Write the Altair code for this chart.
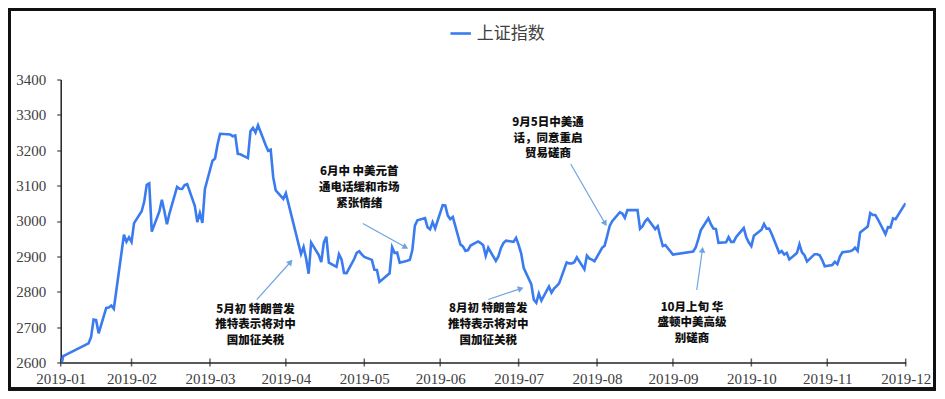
import math
import datetime as dt
import altair as alt
import pandas as pd

# ---------------- data ----------------
series_name = "上证指数"

dates = [
    "2019-01-31",
    "2019-02-01", "2019-02-11", "2019-02-12", "2019-02-13", "2019-02-14", "2019-02-15", "2019-02-18",
    "2019-02-19", "2019-02-20", "2019-02-21", "2019-02-22", "2019-02-25", "2019-02-26", "2019-02-27",
    "2019-02-28",
    "2019-03-01", "2019-03-04", "2019-03-05", "2019-03-06", "2019-03-07", "2019-03-08", "2019-03-11",
    "2019-03-12", "2019-03-13", "2019-03-14", "2019-03-15", "2019-03-18", "2019-03-19", "2019-03-20",
    "2019-03-21", "2019-03-22", "2019-03-25", "2019-03-26", "2019-03-27", "2019-03-28", "2019-03-29",
    "2019-04-01", "2019-04-02", "2019-04-03", "2019-04-04", "2019-04-08", "2019-04-09", "2019-04-10",
    "2019-04-11", "2019-04-12", "2019-04-15", "2019-04-16", "2019-04-17", "2019-04-18", "2019-04-19",
    "2019-04-22", "2019-04-23", "2019-04-24", "2019-04-25", "2019-04-26", "2019-04-29", "2019-04-30",
    "2019-05-06", "2019-05-07", "2019-05-08", "2019-05-09", "2019-05-10", "2019-05-13", "2019-05-14",
    "2019-05-15", "2019-05-16", "2019-05-17", "2019-05-20", "2019-05-21", "2019-05-22", "2019-05-23",
    "2019-05-24", "2019-05-27", "2019-05-28", "2019-05-29", "2019-05-30", "2019-05-31",
    "2019-06-03", "2019-06-04", "2019-06-05", "2019-06-06", "2019-06-10", "2019-06-11", "2019-06-12",
    "2019-06-13", "2019-06-14", "2019-06-17", "2019-06-18", "2019-06-19", "2019-06-20", "2019-06-21",
    "2019-06-24", "2019-06-25", "2019-06-26", "2019-06-27", "2019-06-28",
    "2019-07-01", "2019-07-02", "2019-07-03", "2019-07-04", "2019-07-05", "2019-07-08", "2019-07-09",
    "2019-07-10", "2019-07-11", "2019-07-12", "2019-07-15", "2019-07-16", "2019-07-17", "2019-07-18",
    "2019-07-19", "2019-07-22", "2019-07-23", "2019-07-24", "2019-07-25", "2019-07-26", "2019-07-29",
    "2019-07-30", "2019-07-31",
    "2019-08-01", "2019-08-02", "2019-08-05", "2019-08-06", "2019-08-07", "2019-08-08", "2019-08-09",
    "2019-08-12", "2019-08-13", "2019-08-14", "2019-08-15", "2019-08-16", "2019-08-19", "2019-08-20",
    "2019-08-21", "2019-08-22", "2019-08-23", "2019-08-26", "2019-08-27", "2019-08-28", "2019-08-29",
    "2019-08-30",
    "2019-09-02", "2019-09-03", "2019-09-04", "2019-09-05", "2019-09-06", "2019-09-09", "2019-09-10",
    "2019-09-11", "2019-09-12", "2019-09-16", "2019-09-17", "2019-09-18", "2019-09-19", "2019-09-20",
    "2019-09-23", "2019-09-24", "2019-09-25", "2019-09-26", "2019-09-27", "2019-09-30",
    "2019-10-08", "2019-10-09", "2019-10-10", "2019-10-11", "2019-10-14", "2019-10-15", "2019-10-16",
    "2019-10-17", "2019-10-18", "2019-10-21", "2019-10-22", "2019-10-23", "2019-10-24", "2019-10-25",
    "2019-10-28", "2019-10-29", "2019-10-30", "2019-10-31",
    "2019-11-01", "2019-11-04", "2019-11-05", "2019-11-06", "2019-11-07", "2019-11-08", "2019-11-11",
    "2019-11-12", "2019-11-13", "2019-11-14", "2019-11-15", "2019-11-18", "2019-11-19", "2019-11-20",
    "2019-11-21", "2019-11-22", "2019-11-25", "2019-11-26", "2019-11-27", "2019-11-28", "2019-11-29",
    "2019-12-02", "2019-12-03", "2019-12-04", "2019-12-05", "2019-12-06", "2019-12-09", "2019-12-10",
    "2019-12-11", "2019-12-12", "2019-12-13", "2019-12-16", "2019-12-17", "2019-12-18", "2019-12-19",
    "2019-12-20", "2019-12-23", "2019-12-24", "2019-12-25", "2019-12-26", "2019-12-27", "2019-12-30",
    "2019-12-31",
]

values = [
    2584.6,
    2618.2, 2653.9, 2671.9, 2721.1, 2719.7, 2682.4, 2754.4,
    2755.6, 2761.2, 2751.8, 2804.2, 2961.3, 2941.5, 2953.8,
    2940.9,
    2994.0, 3027.6, 3054.2, 3102.1, 3106.4, 2969.9, 3027.0,
    3060.3, 3026.9, 2990.7, 3021.8, 3096.4, 3091.0, 3090.6,
    3101.5, 3104.1, 3043.0, 2997.1, 3022.7, 2994.9, 3090.8,
    3170.4, 3176.8, 3216.3, 3246.6, 3244.8, 3239.7, 3241.9,
    3190.0, 3188.6, 3177.8, 3253.6, 3263.1, 3250.2, 3270.8,
    3215.0, 3198.6, 3201.6, 3123.8, 3086.4, 3062.5, 3078.3,
    2906.5, 2926.4, 2893.8, 2851.0, 2939.2, 2903.7, 2883.6,
    2938.7, 2955.7, 2882.3, 2870.6, 2906.0, 2891.7, 2853.0,
    2852.8, 2892.4, 2909.9, 2914.7, 2905.8, 2898.7,
    2890.1, 2862.3, 2861.4, 2827.8, 2852.1, 2925.7, 2909.4,
    2910.7, 2882.0, 2887.6, 2890.2, 2917.8, 2987.1, 3002.0,
    3008.2, 2982.1, 2976.3, 2996.8, 2978.9,
    3044.9, 3043.9, 3015.3, 3005.3, 3011.1, 2933.4, 2928.2,
    2915.3, 2917.8, 2930.6, 2942.2, 2937.6, 2931.7, 2901.6,
    2924.2, 2887.0, 2899.9, 2923.3, 2937.4, 2944.5, 2941.0,
    2952.3, 2932.5,
    2908.8, 2867.8, 2821.5, 2777.6, 2768.7, 2794.6, 2774.8,
    2815.0, 2797.3, 2808.9, 2815.8, 2823.8, 2883.1, 2880.3,
    2880.0, 2883.4, 2897.4, 2863.6, 2902.2, 2893.8, 2890.9,
    2886.2,
    2924.1, 2930.2, 2957.4, 2985.9, 2999.6, 3024.7, 3021.2,
    3008.8, 3031.2, 3030.8, 2978.1, 2985.3, 2999.3, 3006.4,
    2977.1, 2985.3, 2955.4, 2929.1, 2932.2, 2905.2,
    2913.6, 2924.9, 2947.7, 2973.7, 3007.9, 2991.0, 2978.7,
    2977.3, 2938.1, 2939.6, 2954.4, 2940.9, 2940.9, 2954.9,
    2980.1, 2954.2, 2939.3, 2929.1,
    2958.2, 2975.5, 2991.6, 2978.6, 2978.7, 2964.2, 2910.0,
    2914.8, 2905.2, 2909.9, 2891.3, 2909.2, 2934.0, 2911.1,
    2903.2, 2885.3, 2906.2, 2906.2, 2903.2, 2889.7, 2872.0,
    2875.8, 2884.7, 2878.1, 2899.5, 2912.0, 2914.5, 2917.3,
    2924.4, 2915.7, 2967.7, 2984.4, 3022.4, 3017.0, 3017.1,
    3004.9, 2962.8, 2982.7, 2981.9, 3007.4, 3005.0, 3040.0,
    3050.1,
]

# month-end tick dates and their labels (labels show the month)
tick_dates = [
    "2019-01-31", "2019-02-28", "2019-03-31", "2019-04-30", "2019-05-31", "2019-06-30",
    "2019-07-31", "2019-08-31", "2019-09-30", "2019-10-31", "2019-11-30", "2019-12-31",
]
y_ticks = [2600, 2700, 2800, 2900, 3000, 3100, 3200, 3300, 3400]

# annotations: text block anchor (date, value) and lines
ann_dates = ["2019-04-18T00:00:00Z", "2019-05-29T00:00:00Z", "2019-08-11T14:00:00Z",
             "2019-07-19T00:00:00Z", "2019-10-07T12:00:00Z"]
ann_values = [[2747, 2705, 2662], [3139, 3094, 3048], [3278, 3233, 3188],
              [2750, 2706, 2662], [2755, 2711, 2667]]
ann_lines = [
    ["5月初 特朗普发", "推特表示将对中", "国加征关税"],
    ["6月中 中美元首", "通电话缓和市场", "紧张情绪"],
    ["9月5日中美通", "话，同意重启", "贸易磋商"],
    ["8月初 特朗普发", "推特表示将对中", "国加征关税"],
    ["10月上旬 华", "盛顿中美高级", "别磋商"],
]
# arrows: start (date, value) -> end (date, value)
arrow_start_dates = ["2019-04-18T12:00:00Z", "2019-05-30T10:00:00Z", "2019-08-20T14:00:00Z",
                     "2019-07-19T00:00:00Z", "2019-10-09T10:00:00Z"]
arrow_start_values = [2778, 2993, 3161, 2778, 2805]
arrow_end_dates = ["2019-05-01T14:00:00Z", "2019-06-16T00:00:00Z", "2019-09-03T00:00:00Z",
                   "2019-07-31T12:00:00Z", "2019-10-11T14:00:00Z"]
arrow_end_values = [2882, 2927, 2995, 2808, 2916]

# ---------------- layout constants ----------------
W, H = 845, 283
Y_MIN, Y_MAX = 2600, 3400
BLUE = "#3a7bef"
ARROW = "#6fa3e0"
AXIS_C = "#222222"
LABEL_C = "#404040"
SERIF = "Liberation Serif"
CJK = "Noto Sans CJK SC"

df = pd.DataFrame({"date": dates, "value": values, "series": series_name})

rows = []
for d, vals, lines in zip(ann_dates, ann_values, ann_lines):
    for v, t in zip(vals, lines):
        rows.append({"date": d, "value": v, "text": t})
ann_df = pd.DataFrame(rows)


def _parse(s):
    return dt.datetime.fromisoformat(s.replace("Z", "+00:00"))


t0 = _parse("2019-01-31T00:00:00Z")
t1 = _parse("2019-12-31T00:00:00Z")
px_day = W / ((t1 - t0).total_seconds() / 86400)
px_pt = H / (Y_MAX - Y_MIN)
arr_rows = []
for sd, sv, ed, ev in zip(arrow_start_dates, arrow_start_values, arrow_end_dates, arrow_end_values):
    dx = (_parse(ed) - _parse(sd)).total_seconds() / 86400 * px_day
    dy = -(ev - sv) * px_pt
    ang = math.degrees(math.atan2(dx, -dy)) % 360
    arr_rows.append({"d1": sd, "v1": sv, "d2": ed, "v2": ev, "angle": ang})
arr_df = pd.DataFrame(arr_rows)

tick_df = pd.DataFrame({"date": tick_dates})


def utc_dt(s):
    p = _parse(s + "T00:00:00Z")
    return alt.DateTime(year=p.year, month=p.month, date=p.day, utc=True)


x_scale = alt.Scale(type="utc", domain=[utc_dt(tick_dates[0]), utc_dt(tick_dates[-1])])
y_scale = alt.Scale(domain=[Y_MIN, Y_MAX], nice=False, zero=False)

x_axis = alt.Axis(
    values=[utc_dt(s) for s in tick_dates],
    labelExpr="utcFormat(datum.value, '%Y-%m')",
    title=None, grid=False, ticks=False, labelPadding=9,
    labelFont=SERIF, labelFontSize=15, labelColor=LABEL_C,
    labelFlush=False, labelOverlap=False,
    domainColor=AXIS_C, domainWidth=1.5,
)
y_axis = alt.Axis(
    values=y_ticks, format="d", title=None, grid=False,
    tickSize=4, tickColor=AXIS_C, labelPadding=11,
    labelFont=SERIF, labelFontSize=15, labelColor=LABEL_C,
    labelOverlap=False, labelFlush=False,
    domainColor=AXIS_C, domainWidth=1.5,
)


def X(field):
    return alt.X(field, scale=x_scale, axis=x_axis)


def Y(field):
    return alt.Y(field, scale=y_scale, axis=y_axis)


line = alt.Chart(df).mark_line(strokeWidth=2.6, clip=True).encode(
    x=X("date:T"),
    y=Y("value:Q"),
    color=alt.Color(
        "series:N",
        scale=alt.Scale(domain=[series_name], range=[BLUE]),
        legend=alt.Legend(
            title=None, orient="none", legendX=388, legendY=-58,
            symbolType="stroke", symbolSize=420, symbolStrokeWidth=2.6,
            labelFont=CJK, labelFontSize=17, labelColor=LABEL_C, labelOffset=4,
            padding=0,
        ),
    ),
)

ticks = alt.Chart(tick_df).mark_tick(color=AXIS_C, thickness=1.5, size=8).encode(
    x=X("date:T"),
    y=alt.value(H),
)

arrows = alt.Chart(arr_df).mark_rule(color=ARROW, strokeWidth=1.2).encode(
    x=X("d1:T"), x2="d2:T",
    y=Y("v1:Q"), y2="v2:Q",
)
heads = alt.Chart(arr_df).mark_point(shape="triangle", filled=True, size=45, color=ARROW, opacity=1).encode(
    x=X("d2:T"),
    y=Y("v2:Q"),
    angle=alt.Angle("angle:Q", scale=None),
)

texts = alt.Chart(ann_df).mark_text(
    font=CJK, fontSize=11.5, fontWeight=900, color="#111111", align="center", baseline="middle"
).encode(
    x=X("date:T"),
    y=Y("value:Q"),
    text="text:N",
)

PAD_L, PAD_T = 52.7, 71.5
frame = alt.Chart(tick_df).mark_rect(fill=None, stroke="#111111", strokeWidth=2.5, filled=False).encode(
    x=alt.value(-PAD_L + 1.5), x2=alt.value(W + 29),
    y=alt.value(-PAD_T + 1.5), y2=alt.value(H + 26.5),
)

chart = alt.layer(frame, ticks, line, arrows, heads, texts).properties(
    width=W, height=H,
    autosize=alt.AutoSizeParams(type="none"),
    padding={"left": PAD_L, "top": PAD_T, "right": 30, "bottom": 28},
).configure_view(strokeWidth=0)

chart.save("out.html", embed_options={"renderer": "svg", "actions": False})
